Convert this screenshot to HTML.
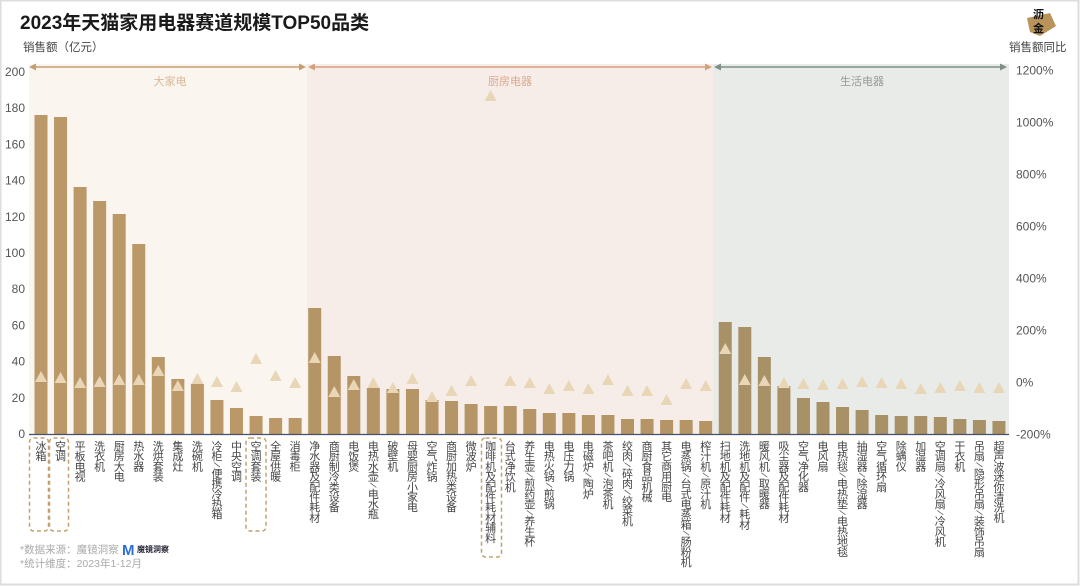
<!DOCTYPE html>
<html><head><meta charset="utf-8"><style>
html,body{margin:0;padding:0;background:#fff}
svg{display:block}
text{font-family:"Liberation Sans","Noto Sans CJK SC",sans-serif}
</style></head><body>
<svg id="s" width="1080" height="586" viewBox="0 0 1080 586" xmlns="http://www.w3.org/2000/svg">
<rect x="0.5" y="0.5" width="1078" height="584" fill="#fff" stroke="#ddd" stroke-width="2"/>
<text x="20" y="29" font-size="19" font-weight="bold" fill="#1a1a1a">2023年天猫家用电器赛道规模TOP50品类</text>
<text x="23" y="51" font-size="11.5" fill="#444">销售额（亿元）</text>
<text x="1009" y="51" font-size="11.5" fill="#444">销售额同比</text>
<polygon points="1027,18 1050,13 1056,26 1040,36 1030,32" fill="#b8935a"/>
<text x="1033" y="18" font-size="11" font-weight="bold" fill="#111">沥</text>
<text x="1033" y="32" font-size="11" font-weight="bold" fill="#111">金</text>
<rect x="29" y="64" width="278" height="370" fill="#faf5ee"/>
<rect x="307" y="64" width="406" height="370" fill="#f7ede8"/>
<rect x="713" y="64" width="296" height="370" fill="#e9ebe9"/>
<g id="arrows"></g>
<text x="170" y="85" font-size="11" fill="#d9b896" text-anchor="middle">大家电</text>
<text x="510" y="85" font-size="11" fill="#d9a98f" text-anchor="middle">厨房电器</text>
<text x="862" y="85" font-size="11" fill="#999" text-anchor="middle">生活电器</text>
<g id="g"></g>
<line x1="29" y1="434.5" x2="1009" y2="434.5" stroke="#4a5068" stroke-width="1.2"/>
<rect x="29.5" y="438" width="19" height="93" rx="4" fill="none" stroke="#c4a070" stroke-width="1.5" stroke-dasharray="4,3"/>
<rect x="49.5" y="438" width="19" height="93" rx="4" fill="none" stroke="#c4a070" stroke-width="1.5" stroke-dasharray="4,3"/>
<rect x="246" y="438" width="20" height="93" rx="4" fill="none" stroke="#c4a070" stroke-width="1.5" stroke-dasharray="4,3"/>
<rect x="481.5" y="438" width="20" height="119" rx="4" fill="none" stroke="#c4a070" stroke-width="1.5" stroke-dasharray="4,3"/>
<text x="20" y="553" font-size="10.5" fill="#aaa">*数据来源：魔镜洞察</text>
<text x="122" y="555" font-size="15" font-weight="bold" fill="#2c6fd8">M</text>
<text x="137" y="552" font-size="8" font-weight="bold" fill="#223">魔镜洞察</text>
<text x="20" y="567" font-size="10.5" fill="#aaa">*统计维度：2023年1-12月</text>
</svg>
<script>
var NS="http://www.w3.org/2000/svg",g=document.getElementById("g");
function el(t,a,p,txt){var e=document.createElementNS(NS,t);for(var k in a)e.setAttribute(k,a[k]);if(txt)e.textContent=txt;(p||g).appendChild(e);return e;}
var names=["冰箱","空调","平板电视","洗衣机","厨房大电","热水器","洗烘套装","集成灶","洗碗机","冷柜/便携冷热箱","中央空调","空调套装","全屋供暖","消毒柜",
"净水器及配件耗材","商厨制冷类设备","电饭煲","电热水壶/电水瓶","破壁机","母婴厨房小家电","空气炸锅","商厨加热类设备","微波炉","咖啡机及配件耗材辅料","台式净饮机","养生壶/煎药壶/养生杯","电热火锅/煎锅","电压力锅","电磁炉/陶炉","茶吧机/泡茶机","绞肉/碎肉/绞菜机","商厨食品机械","其它商用厨电","电蒸锅/台式电蒸箱/肠粉机","榨汁机/原汁机",
"扫地机及配件耗材","洗地机及配件/耗材","暖风机/取暖器","吸尘器及配件耗材","空气净化器","电风扇","电热毯/电热垫/电热地毯","抽湿器/除湿器","空气循环扇","除螨仪","加湿器","空调扇/冷风扇/冷风机","干衣机","吊扇/隐形吊扇/装饰吊扇","超声波迷你清洗机"];
var tops=[115,117,187,201,214,244,357,379,384,400,408,416,418,418,
308,356,376,388,389,389,400,401,404,406,406,409,413,413,415,415,419,419,420,420,421,
322,327,357,386,398,402,407,410,415,416,416,417,419,420,421];
var tri=[377,378,383,382,380,380,371,386,379,382,387,359,376,383,
358,392,385,383,388,379,397,391,381,96,381,383,389,386,389,380,391,391,400,384,386,
349,380,381,383,384,385,384,382,383,384,389,388,386,388,388];
var s=document.getElementById("s");
for(var v=0;v<=200;v+=20){el("text",{x:25,y:434-v*1.81+4,"font-size":12,fill:"#555","text-anchor":"end"},s,String(v));}
for(var p=-200;p<=1200;p+=200){el("text",{x:1016,y:382.5-p*0.26+4,"font-size":12,fill:"#555"},s,p+"%");}
for(var i=0;i<50;i++){
 var x=34.5+i*19.55,c=i<14?"#bb9868":(i<35?"#b59466":"#a89067");
 el("rect",{x:x,y:tops[i],width:13,height:434-tops[i],fill:c});
 var cx=x+6.5,ty=tri[i];
 el("polygon",{points:(cx-6)+","+(ty+5)+" "+(cx+6)+","+(ty+5)+" "+cx+","+(ty-6),fill:"#e8d6b6"});
 var chars=Array.from(names[i]);
 var cy=446;
 for(var k=0;k<chars.length;k++){
  var ch=chars[k];
  if(ch=="/"){cy-=1.6;el("line",{x1:cx-3,y1:cy-2.2,x2:cx+3,y2:cy+2.2,stroke:"#666","stroke-width":0.8},g);cy+=8.6;}
  else {el("text",{x:cx,y:cy+4,"font-size":11,fill:"#444","text-anchor":"middle"},g,ch);cy+=10.2;}
 }
}
var A=document.getElementById("arrows");
function arrow(x1,x2,c){el("line",{x1:x1+3,y1:67,x2:x2-3,y2:67,stroke:c,"stroke-width":1.5},A);
 el("polygon",{points:x1+",67 "+(x1+7)+",63.5 "+(x1+7)+",70.5",fill:c},A);
 el("polygon",{points:x2+",67 "+(x2-7)+",63.5 "+(x2-7)+",70.5",fill:c},A);}
arrow(29,306,"#c4a070");arrow(308,712,"#d4a080");arrow(714,1007,"#7d8f88");
</script>
</body></html>
